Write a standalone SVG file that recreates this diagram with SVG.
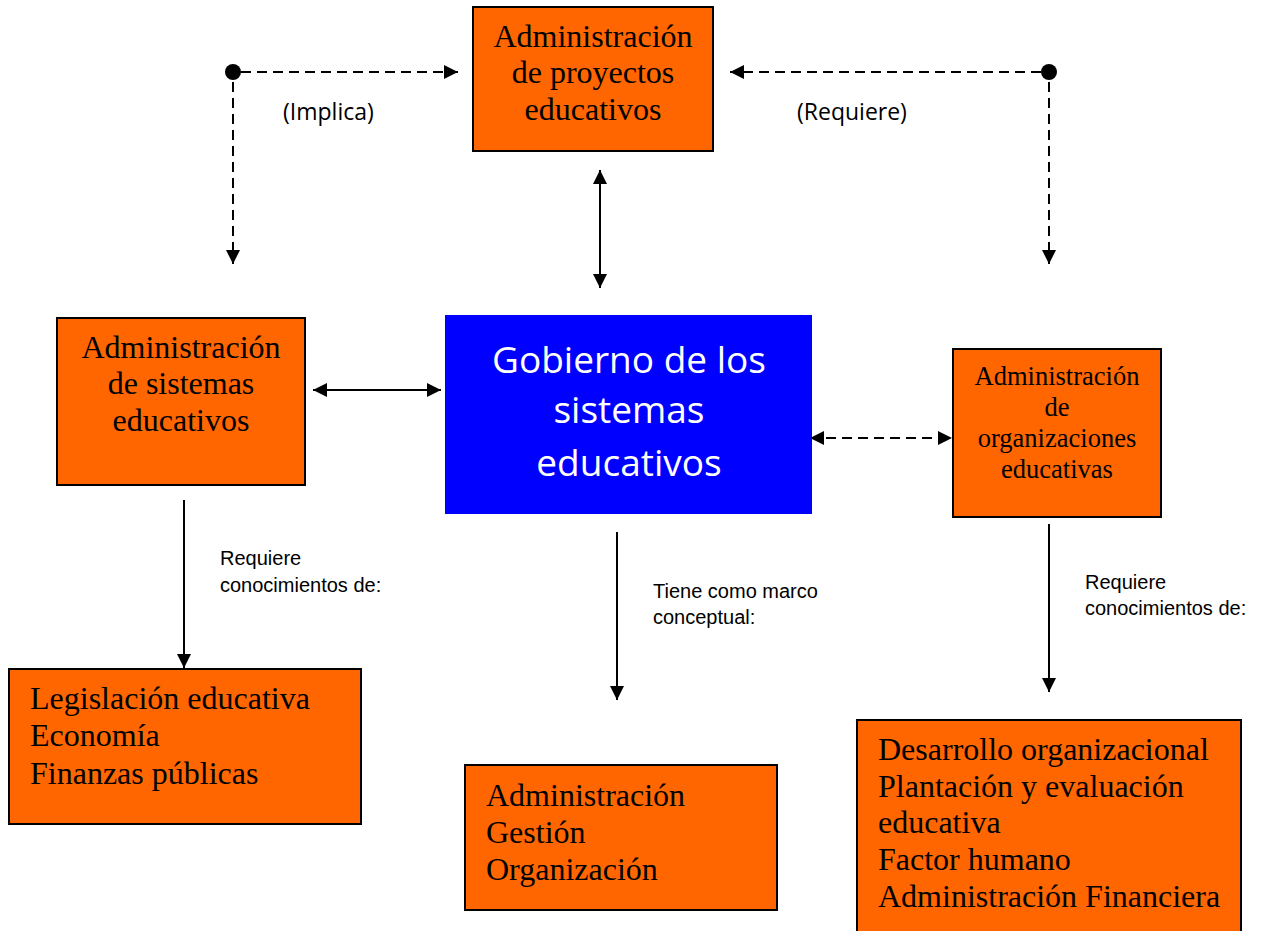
<svg xmlns="http://www.w3.org/2000/svg" width="1268" height="931" viewBox="0 0 1268 931">
<defs>
<marker id="ah" viewBox="0 0 10 10" refX="10" refY="5" markerWidth="7" markerHeight="7" markerUnits="strokeWidth" orient="auto-start-reverse">
<path d="M0,0 L10,5 L0,10 z" fill="#000"/>
</marker>
</defs>
<style>
.box{fill:#FF6600;stroke:#000;stroke-width:2}
.blue{fill:#0000FF}
.t{font-family:"Liberation Serif","Times New Roman",serif;font-size:32px;fill:#000}
.tc{text-anchor:middle}
.ts{font-family:"Liberation Serif","Times New Roman",serif;font-size:26.5px;fill:#000;text-anchor:middle}
.tb{font-family:"Open Sans","Liberation Sans",sans-serif;font-size:37px;fill:#fff;text-anchor:middle}
.lbl{font-family:"Liberation Sans",Arial,sans-serif;font-size:20px;fill:#000}
.lc{font-family:"Open Sans","Liberation Sans",sans-serif;font-size:23px;fill:#000}
.ln{stroke:#000;stroke-width:2;fill:none}
.dash{stroke-dasharray:10,6}
</style>
<rect width="1268" height="931" fill="#fff"/>
<g id="connectors">
<circle cx="233" cy="72" r="8" fill="#000"/>
<line class="ln dash" x1="241" y1="72" x2="458" y2="72" marker-end="url(#ah)"/>
<line class="ln dash" x1="233" y1="82" x2="233" y2="264" marker-end="url(#ah)"/>
<circle cx="1049" cy="72" r="8" fill="#000"/>
<line class="ln dash" x1="1041" y1="72" x2="730" y2="72" marker-end="url(#ah)"/>
<line class="ln dash" x1="1049" y1="82" x2="1049" y2="264" marker-end="url(#ah)"/>
<line class="ln" x1="600" y1="170" x2="600" y2="288" marker-start="url(#ah)" marker-end="url(#ah)"/>
<line class="ln" x1="313" y1="390" x2="441" y2="390" marker-start="url(#ah)" marker-end="url(#ah)"/>
<line class="ln dash" x1="810" y1="438" x2="952" y2="438" marker-start="url(#ah)" marker-end="url(#ah)"/>
<line class="ln" x1="184" y1="500" x2="184" y2="668" marker-end="url(#ah)"/>
<line class="ln" x1="617" y1="532" x2="617" y2="700" marker-end="url(#ah)"/>
<line class="ln" x1="1049" y1="524" x2="1049" y2="692" marker-end="url(#ah)"/>
<text class="lc" x="283" y="120">(Implica)</text>
<text class="lc" x="797" y="120">(Requiere)</text>
<text class="lbl" x="220" y="565">Requiere</text>
<text class="lbl" x="220" y="592">conocimientos de:</text>
<text class="lbl" x="653" y="598">Tiene como marco</text>
<text class="lbl" x="653" y="624">conceptual:</text>
<text class="lbl" x="1085" y="589">Requiere</text>
<text class="lbl" x="1085" y="615">conocimientos de:</text>
</g>
<g id="proyectos">
<rect class="box" x="473" y="7" width="240" height="144"/>
<text class="t tc" x="593" y="47">Administración</text>
<text class="t tc" x="593" y="83">de proyectos</text>
<text class="t tc" x="593" y="120">educativos</text>
</g>
<g id="sistemas">
<rect class="box" x="57" y="318" width="248" height="167"/>
<text class="t tc" x="181" y="358">Administración</text>
<text class="t tc" x="181" y="394">de sistemas</text>
<text class="t tc" x="181" y="431">educativos</text>
</g>
<g id="gobierno">
<rect class="blue" x="445" y="315" width="367" height="199"/>
<text class="tb" x="629" y="373">Gobierno de los</text>
<text class="tb" x="629" y="423">sistemas</text>
<text class="tb" x="629" y="476">educativos</text>
</g>
<g id="organizaciones">
<rect class="box" x="953" y="349" width="208" height="168"/>
<text class="ts" x="1057" y="385">Administración</text>
<text class="ts" x="1057" y="416">de</text>
<text class="ts" x="1057" y="447">organizaciones</text>
<text class="ts" x="1057" y="478">educativas</text>
</g>
<g id="legislacion">
<rect class="box" x="9" y="669" width="352" height="155"/>
<text class="t" x="30" y="709">Legislación educativa</text>
<text class="t" x="30" y="746">Economía</text>
<text class="t" x="30" y="784">Finanzas públicas</text>
</g>
<g id="marco">
<rect class="box" x="465" y="765" width="312" height="145"/>
<text class="t" x="486" y="806">Administración</text>
<text class="t" x="486" y="843">Gestión</text>
<text class="t" x="486" y="880">Organización</text>
</g>
<g id="desarrollo">
<rect class="box" x="857" y="720" width="384" height="215"/>
<text class="t" x="878" y="760">Desarrollo organizacional</text>
<text class="t" x="878" y="797">Plantación y evaluación</text>
<text class="t" x="878" y="833">educativa</text>
<text class="t" x="878" y="870">Factor humano</text>
<text class="t" x="878" y="907">Administración Financiera</text>
</g>
</svg>
